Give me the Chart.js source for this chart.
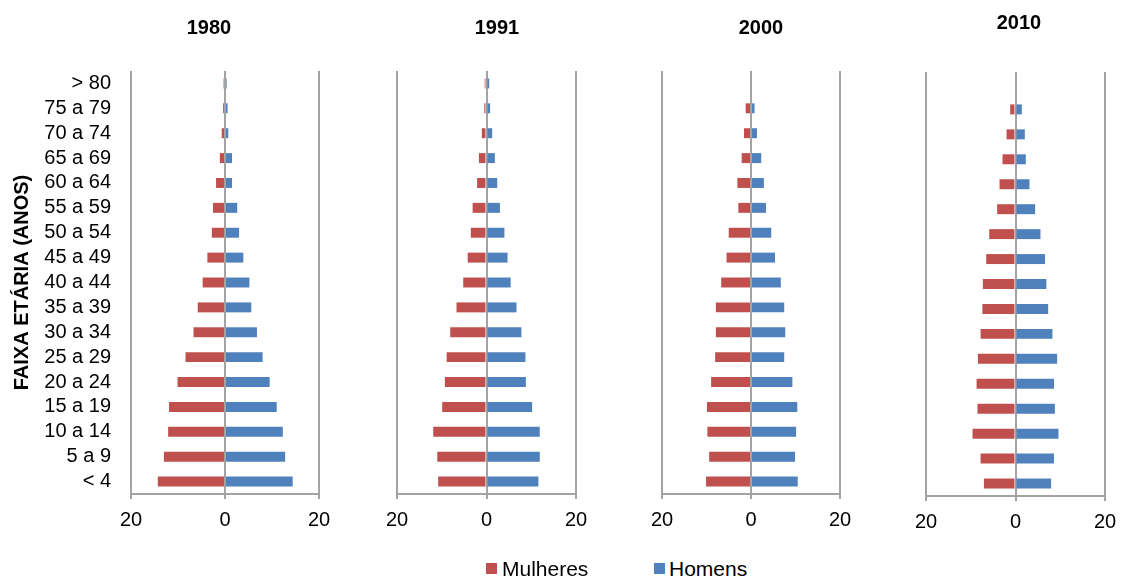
<!DOCTYPE html>
<html>
<head>
<meta charset="utf-8">
<script src="https://cdn.jsdelivr.net/npm/chart.js@4/dist/chart.umd.min.js"></script>
<style>
  html, body { margin: 0; padding: 0; background: #fff; }
  body { width: 1121px; height: 577px; position: relative; overflow: hidden; font-family: "Liberation Sans", Arial, sans-serif; }
  .box { position: absolute; }
  .ttl { position: absolute; font-weight: bold; font-size: 20px; color: #000; transform: translate(-50%, -50%); white-space: nowrap; }
  .leg { position: absolute; font-size: 21px; color: #000; line-height: 21px; transform: translateY(-50%); white-space: nowrap; }
  .sq { position: absolute; width: 11px; height: 11px; }
</style>
</head>
<body>
<div class="box" id="b1" style="left:0px;top:0px;width:345px;height:540px;"><canvas id="c1"></canvas></div>
<div class="box" id="b2" style="left:340px;top:0px;width:262px;height:540px;"><canvas id="c2"></canvas></div>
<div class="box" id="b3" style="left:600px;top:0px;width:266px;height:540px;"><canvas id="c3"></canvas></div>
<div class="box" id="b4" style="left:866px;top:0px;width:265px;height:542px;"><canvas id="c4"></canvas></div>

<div class="ttl" style="left:209px;top:27px;">1980</div>
<div class="ttl" style="left:497px;top:27px;">1991</div>
<div class="ttl" style="left:761px;top:27px;">2000</div>
<div class="ttl" style="left:1019px;top:22px;">2010</div>

<div class="sq" style="left:486px;top:563px;background:#C0504D;"></div>
<div class="leg" style="left:502px;top:568px;">Mulheres</div>
<div class="sq" style="left:654px;top:563px;background:#4F81BD;"></div>
<div class="leg" style="left:669px;top:568px;">Homens</div>

<script>
// Categories (top to bottom)
const categories = ["> 80","75 a 79","70 a 74","65 a 69","60 a 64","55 a 59","50 a 54","45 a 49","40 a 44","35 a 39","30 a 34","25 a 29","20 a 24","15 a 19","10 a 14","5 a 9","< 4"];
const years = ["1980","1991","2000","2010"];
const seriesNames = ["Mulheres","Homens"];
const axisTitle = "FAIXA ETÁRIA (ANOS)";
const tickValues = [-20, 0, 20];

// Values (shares)
const mulheres1980 = [0.3,0.4,0.7,1.1,1.9,2.55,2.8,3.75,4.75,5.8,6.7,8.4,10.1,11.9,12.1,13.0,14.3];
const homens1980   = [0.35,0.55,0.7,1.5,1.5,2.6,3.0,3.9,5.2,5.6,6.8,8.0,9.5,11.0,12.3,12.8,14.4];
const mulheres1991 = [0.4,0.5,1.05,1.7,2.1,3.1,3.5,4.2,5.2,6.7,8.1,8.9,9.3,9.9,11.9,11.0,10.8];
const homens1991   = [0.6,0.8,1.27,1.87,2.4,3.0,4.0,4.7,5.4,6.7,7.8,8.7,8.8,10.2,11.9,11.9,11.6];
const mulheres2000 = [null,1.2,1.57,2.1,3.06,2.84,5.0,5.5,6.7,7.9,7.9,8.06,8.96,9.9,9.8,9.4,10.1];
const homens2000   = [null,0.8,1.34,2.3,2.9,3.36,4.55,5.4,6.7,7.46,7.7,7.46,9.3,10.4,10.15,9.9,10.5];
const mulheres2010 = [null,1.19,2.0,2.9,3.57,4.1,5.87,6.54,7.3,7.4,7.8,8.4,8.7,8.5,9.6,7.8,7.06];
const homens2010   = [null,1.41,2.08,2.3,3.12,4.39,5.58,6.6,6.9,7.3,8.25,9.3,8.6,8.8,9.6,8.6,7.96];

const RED = "#C0504D", BLUE = "#4F81BD", GRAY = "#A3A3A3";
const FONT = "'Liberation Sans', Arial, sans-serif";

function makeChart(id, mulheres, homens, cfg) {
  const ctx = document.getElementById(id);
  return new Chart(ctx, {
    type: "bar",
    data: {
      labels: categories,
      datasets: [
        { label: seriesNames[0], data: mulheres.map(v => v === null ? null : -v), backgroundColor: RED, borderWidth: 0, barPercentage: 0.4, categoryPercentage: 1.0 },
        { label: seriesNames[1], data: homens, backgroundColor: BLUE, borderWidth: 0, barPercentage: 0.4, categoryPercentage: 1.0 }
      ]
    },
    options: {
      indexAxis: "y",
      responsive: true,
      maintainAspectRatio: false,
      animation: false,
      devicePixelRatio: 1,
      layout: { padding: { left: 0, top: cfg.top, right: 26, bottom: 0 } },
      plugins: { legend: { display: false }, title: { display: false }, tooltip: { enabled: false } },
      scales: {
        x: {
          stacked: true,
          min: -20, max: 20,
          z: 1,
          afterBuildTicks: (s) => { s.ticks = tickValues.map(v => ({ value: v })); },
          afterFit: (s) => { s.height = 46; },
          ticks: {
            callback: (v) => String(Math.abs(v)),
            color: "#000",
            font: { family: FONT, size: 20 },
            padding: 9,
            maxRotation: 0
          },
          grid: { display: true, color: GRAY, lineWidth: 2, tickLength: 5, drawTicks: true, drawOnChartArea: true },
          border: { display: true, color: GRAY, width: 2 }
        },
        y: {
          stacked: true,
          afterFit: (s) => { s.width = cfg.yWidth; },
          ticks: {
            display: cfg.showLabels,
            color: "#000",
            font: { family: FONT, size: 20 },
            padding: 12,
            autoSkip: false
          },
          grid: { display: false },
          border: { display: false },
          title: {
            display: cfg.showLabels,
            text: axisTitle,
            color: "#000",
            font: { family: FONT, size: 20, weight: "bold" },
            padding: { top: 10, bottom: 0 }
          }
        }
      }
    }
  });
}

makeChart("c1", mulheres1980, homens1980, { top: 71, yWidth: 131, showLabels: true });
makeChart("c2", mulheres1991, homens1991, { top: 71, yWidth: 57, showLabels: false });
makeChart("c3", mulheres2000, homens2000, { top: 71, yWidth: 62, showLabels: false });
makeChart("c4", mulheres2010, homens2010, { top: 72, yWidth: 60, showLabels: false });
</script>
</body>
</html>
